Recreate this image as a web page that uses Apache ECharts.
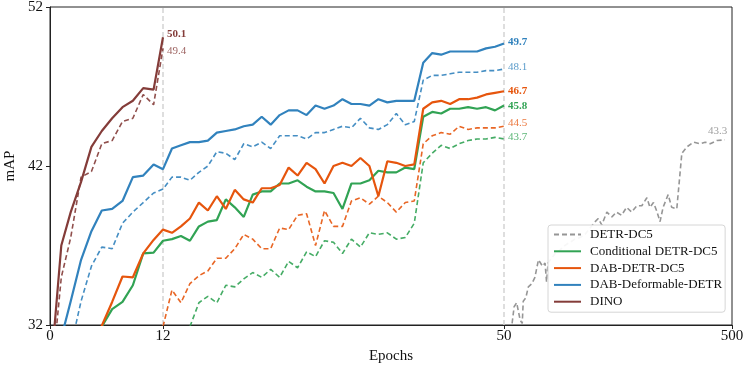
<!DOCTYPE html>
<html><head><meta charset="utf-8">
<script src="https://cdn.jsdelivr.net/npm/echarts@6/dist/echarts.min.js"></script>
<style>html,body{margin:0;padding:0;background:#fff}#c{width:746px;height:367px}</style>
</head><body><div id="c"></div>
<script>
// ---------- data ----------
const xTickEpochs = [0, 12, 50, 500];
const yTicks = [32, 42, 52];
const legendNames = ['DETR-DC5', 'Conditional DETR-DC5', 'DAB-DETR-DC5', 'DAB-Deformable-DETR', 'DINO'];

// epochs shared by the 0-50 curves
const epochs = [1.2, 2.2, 3.3, 4.4, 5.5, 6.6, 7.7, 8.8, 9.9, 11, 12,
  13, 14, 15, 16, 17, 18, 19, 20, 21, 22, 23, 24, 25, 26, 27, 28, 29, 30, 31,
  32, 33, 34, 35, 36, 37, 38, 39, 40, 41, 42, 43, 44, 45, 46, 47, 48, 49, 50];

const dabDefSolid = [31.2, 33.5, 36.1, 37.9, 39.2, 39.3, 39.8, 41.3, 41.4, 42.1, 41.8,
  43.1, 43.3, 43.5, 43.5, 43.6, 44.1, 44.2, 44.3, 44.5, 44.6, 45.1, 44.6, 45.2, 45.5, 45.5, 45.2, 45.8, 45.6, 45.8,
  46.2, 45.9, 45.9, 45.8, 46.2, 46.0, 46.1, 46.1, 46.1, 48.5, 49.1, 49.0, 49.2, 49.2, 49.2, 49.2, 49.4, 49.5, 49.7];
const dabDefDashed = [null, 30.6, 33.5, 35.7, 36.9, 36.8, 38.4, 39.1, 39.7, 40.3, 40.55,
  41.3, 41.3, 41.1, 41.6, 42.0, 42.9, 42.8, 42.4, 43.4, 43.2, 43.5, 43.1, 43.9, 43.9, 43.9, 43.7, 44.1, 44.1, 44.3,
  44.5, 44.4, 45.0, 44.4, 44.3, 44.6, 45.3, 44.6, 44.8, 47.4, 47.7, 47.7, 47.8, 47.9, 47.9, 47.9, 48.0, 48.0, 48.1];
const dabSolid = [null, null, null, 30.0, 31.95, 33.45, 35.05, 35.0, 36.5, 37.35, 38.0,
  37.8, 38.2, 38.7, 39.7, 39.2, 40.1, 39.3, 40.5, 39.9, 39.7, 40.6, 40.6, 40.8, 41.9, 41.4, 42.2, 41.8, 40.9, 42.0,
  42.2, 42.0, 42.5, 42.0, 40.1, 42.3, 42.2, 42.0, 42.1, 45.6, 46.0, 46.1, 45.9, 46.2, 46.2, 46.3, 46.5, 46.6, 46.7];
const dabDashed = [null, null, null, null, null, null, null, null, null, null, 31.9,
  34.2, 33.4, 34.6, 35.1, 35.4, 36.2, 36.2, 36.8, 37.7, 37.4, 36.8, 36.8, 38.1, 38.0, 38.9, 39.0, 37.0, 39.2, 38.2,
  38.2, 39.8, 40.0, 39.6, 40.1, 39.7, 39.1, 39.7, 39.8, 43.4, 43.9, 44.1, 44.0, 44.5, 44.3, 44.4, 44.4, 44.4, 44.5];
const condSolid = [null, null, null, 30.0, 31.9, 33.0, 33.45, 34.5, 36.5, 36.55, 37.3,
  37.4, 37.6, 37.3, 38.2, 38.5, 38.6, 39.9, 39.4, 38.8, 40.2, 40.4, 40.4, 40.9, 40.9, 41.1, 40.7, 40.4, 40.4, 40.3,
  39.3, 40.9, 40.9, 41.1, 41.7, 41.6, 41.6, 41.9, 41.8, 45.1, 45.4, 45.3, 45.6, 45.6, 45.7, 45.6, 45.7, 45.5, 45.8];
const condDashed = [null, null, null, null, null, null, null, null, null, null, null,
  null, null, 31.9, 33.4, 33.8, 33.4, 34.5, 34.4, 34.9, 35.3, 35.0, 35.5, 35.0, 36.0, 35.6, 36.6, 36.3, 37.3, 37.2,
  36.5, 37.4, 36.9, 37.8, 37.7, 37.8, 37.4, 37.5, 38.4, 42.2, 42.8, 43.3, 43.1, 43.4, 43.6, 43.7, 43.7, 43.8, 43.7];

const dinoEpochs = [0, 1.2, 2.2, 3.3, 4.4, 5.5, 6.6, 7.7, 8.8, 9.9, 11, 12];
const dinoSolid = [28.5, 37.0, 39.1, 41.0, 43.2, 44.2, 45.0, 45.7, 46.1, 46.9, 46.8, 50.1];
const dinoDashed = [27.6, 35.0, 37.5, 41.3, 41.65, 43.4, 43.6, 44.8, 45.0, 46.5, 45.85, 49.4];

const detrEpochs = [66, 70, 75, 82, 86, 88, 93, 98, 105, 111, 118, 121, 126, 131, 134, 137, 144, 151, 160, 170,
  180, 190, 200, 210, 220, 230, 236, 243, 253, 263, 272, 282, 292, 302, 312, 322, 332, 338, 345, 351,
  358, 364, 374, 381, 391, 401, 411, 424, 437, 447, 457, 470, 486];
const detrValues = [32.1, 33.15, 33.4, 32.3, 32.1, 33.5, 33.7, 34.4, 34.6, 35.0, 36.1, 36.2, 35.7, 35.9, 34.7, 35.9, 36.2, 36.5, 36.7, 37.0,
  37.2, 37.4, 37.5, 37.7, 38.1, 38.5, 38.7, 38.3, 39.1, 38.8, 39.1, 38.9, 39.4, 39.1, 39.5, 39.5, 40.0, 39.4, 39.7, 39.2,
  38.5, 39.4, 40.2, 39.4, 39.3, 42.8, 43.2, 43.5, 43.4, 43.5, 43.4, 43.6, 43.65];

const endLabels = { detr: '43.3', condS: '45.8', condD: '43.7', dabS: '46.7', dabD: '44.5', defS: '49.7', defD: '48.1', dinoS: '50.1', dinoD: '49.4' };

// ---------- broken epoch scale (0-12 | 12-50 | 50-500) ----------
function toX(e) {
  if (e <= 12) return e * 113 / 12;
  if (e <= 50) return 113 + (e - 12) * 341 / 38;
  return 454 + (e - 50) * 228 / 450;
}
function pairs(xs, ys) {
  const out = [];
  xs.forEach((e, i) => { if (ys[i] !== null) out.push([toX(e), ys[i]]); });
  return out;
}
const xTickPos = xTickEpochs.map(toX);
const FONT = "'Liberation Serif', 'Times New Roman', serif";
const C = { gray: '#969696', green: '#31a354', orange: '#e6550d', blue: '#3182bd', brown: '#843c39' };
function fade(hex, a) {
  const n = parseInt(hex.slice(1), 16);
  return 'rgba(' + (n >> 16) + ',' + ((n >> 8) & 255) + ',' + (n & 255) + ',' + a + ')';
}

function mk(name, data, color, dashed, label, dy, opts) {
  return Object.assign({
    name: name, type: 'line', data: data, symbol: 'none', showSymbol: false,
    clip: true, z: dashed ? 3 : 4,
    lineStyle: { color: dashed ? fade(color, 0.9) : color, width: dashed ? 1.6 : 2.2, type: dashed ? [5, 3] : 'solid' },
    itemStyle: { color: color },
    endLabel: {
      show: true, formatter: () => label, fontFamily: FONT, fontSize: 11,
      fontWeight: dashed ? 'normal' : 'bold', color: dashed ? fade(color, 0.8) : color,
      distance: 4, offset: [0, dy]
    }
  }, opts || {});
}

const series = [
  mk('DETR-DC5', pairs(detrEpochs, detrValues), C.gray, true, endLabels.detr, -9, {
    z: 2,
    lineStyle: { color: C.gray, width: 1.6, type: [5, 3] },
    endLabel: { show: true, formatter: () => endLabels.detr, fontFamily: FONT, fontSize: 11, color: '#a0a0a0', distance: 0, offset: [-17, -9] },
    markLine: {
      silent: true, symbol: 'none', label: { show: false }, z: 1,
      lineStyle: { color: '#d4d4d4', width: 1.5, type: [5, 3] },
      data: [{ xAxis: toX(12) }, { xAxis: toX(50) }]
    }
  }),
  mk('Conditional DETR-DC5 (dashed)', pairs(epochs, condDashed), C.green, true, endLabels.condD, -2),
  mk('DAB-DETR-DC5 (dashed)', pairs(epochs, dabDashed), C.orange, true, endLabels.dabD, -3),
  mk('DAB-Deformable-DETR (dashed)', pairs(epochs, dabDefDashed), C.blue, true, endLabels.defD, -2),
  mk('DINO (dashed)', pairs(dinoEpochs, dinoDashed), C.brown, true, endLabels.dinoD, 3),
  mk('Conditional DETR-DC5', pairs(epochs, condSolid), C.green, false, endLabels.condS, 1),
  mk('DAB-DETR-DC5', pairs(epochs, dabSolid), C.orange, false, endLabels.dabS, 0),
  mk('DAB-Deformable-DETR', pairs(epochs, dabDefSolid), C.blue, false, endLabels.defS, -1),
  mk('DINO', pairs(dinoEpochs, dinoSolid), C.brown, false, endLabels.dinoS, -3)
];

const chart = echarts.init(document.getElementById('c'), null, { renderer: 'canvas' });
chart.setOption({
  animation: false,
  backgroundColor: '#ffffff',
  grid: { left: 50, right: 14, top: 7, bottom: 42, containLabel: false, outerBoundsMode: 'none',
    show: true, borderColor: '#222', borderWidth: 1, backgroundColor: 'transparent' },
  xAxis: {
    type: 'value', min: 0, max: toX(500),
    name: 'Epochs', nameLocation: 'middle', nameGap: 22,
    nameTextStyle: { fontFamily: FONT, fontSize: 15, color: '#111' },
    axisLine: { show: true, lineStyle: { color: '#222', width: 1 } },
    axisTick: { show: true, inside: false, length: 4, lineStyle: { color: '#222' }, customValues: xTickPos },
    axisLabel: {
      customValues: xTickPos, margin: 4, fontFamily: FONT, fontSize: 15, color: '#111',
      showMinLabel: true, showMaxLabel: true, hideOverlap: false,
      formatter: (v) => { const i = xTickPos.findIndex(p => Math.abs(p - v) < 0.01); return i >= 0 ? String(xTickEpochs[i]) : ''; }
    },
    splitLine: { show: false }
  },
  yAxis: {
    type: 'value', min: yTicks[0], max: yTicks[yTicks.length - 1], interval: 10,
    name: 'mAP', nameLocation: 'middle', nameGap: 24, nameRotate: 90,
    nameTextStyle: { fontFamily: FONT, fontSize: 15, color: '#111' },
    axisLine: { show: true, lineStyle: { color: '#222', width: 1 } },
    axisTick: { show: true, inside: false, length: 4, lineStyle: { color: '#222' } },
    axisLabel: { margin: 7, fontFamily: FONT, fontSize: 15, color: '#111' },
    splitLine: { show: false }
  },
  legend: {
    data: legendNames, orient: 'vertical', left: 548, top: 225,
    itemWidth: 27, itemHeight: 14, itemGap: 3.8,
    padding: [3, 3, 4, 5],
    itemStyle: { opacity: 0, borderWidth: 0 },
    backgroundColor: 'rgba(255,255,255,0.92)', borderColor: '#d6d6d6', borderWidth: 1, borderRadius: 3,
    textStyle: { fontFamily: FONT, fontSize: 13, color: '#111', padding: [0, 0, 0, 4] }
  },
  series: series
});
</script></body></html>
